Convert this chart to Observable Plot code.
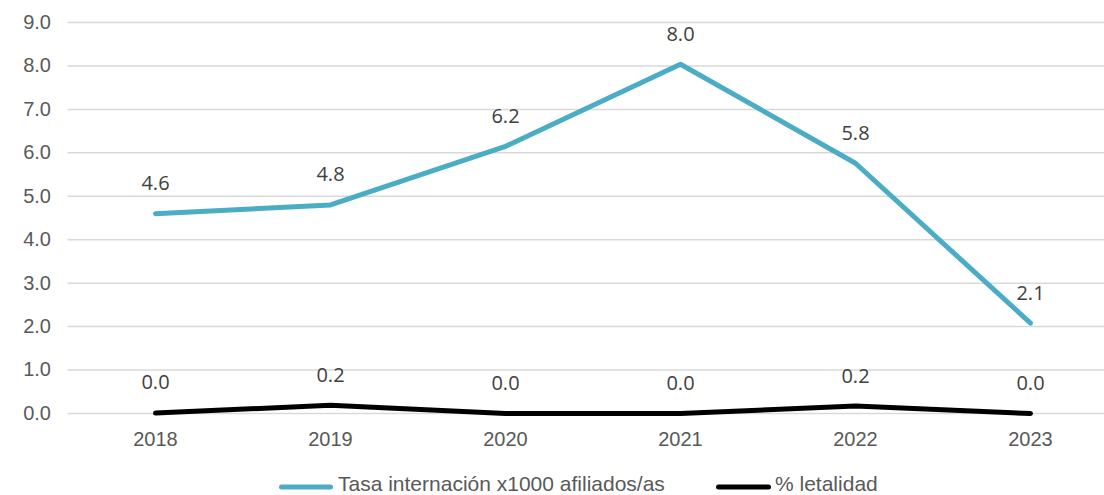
<!DOCTYPE html>
<html>
<head>
<meta charset="utf-8">
<script src="https://cdn.jsdelivr.net/npm/d3@7"></script>
<script src="https://cdn.jsdelivr.net/npm/@observablehq/plot@0.6"></script>
<style>
  html, body { margin: 0; padding: 0; background: #fff; }
  #wrap { width: 1104px; height: 495px; position: relative; overflow: hidden; }
  #legend { position: absolute; left: 0; top: 474px; width: 1104px; height: 21px; font-family: "Liberation Sans", Arial, sans-serif; font-size: 21px; color: #595959; }
  .sw { position: absolute; top: 10px; }
  .lbl { position: absolute; top: -1px; height: 21px; line-height: 21px; white-space: nowrap; }
</style>
</head>
<body>
<div id="wrap">
  <div id="chart"></div>
  <div id="legend"></div>
</div>
<script>
const years = ["2018", "2019", "2020", "2021", "2022", "2023"];
const tasa = [4.6, 4.8, 6.15, 8.04, 5.76, 2.08];
const letalidad = [0.01, 0.19, 0.0, 0.0, 0.17, 0.0];
const seriesNames = ["Tasa internación x1000 afiliados/as", "% letalidad"];
const seriesColors = ["#4BACC6", "#000000"];
const yTicks = [0, 1, 2, 3, 4, 5, 6, 7, 8, 9];

const data = [];
years.forEach((y, i) => {
  data.push({year: y, value: tasa[i], series: seriesNames[0]});
  data.push({year: y, value: letalidad[i], series: seriesNames[1]});
});

const fmt = d3.format(".1f");

const chart = Plot.plot({
  width: 1104,
  height: 474,
  marginLeft: 67.5,
  marginRight: -13.5,
  marginTop: 22,
  marginBottom: 61,
  style: {overflow: "hidden", background: "#fff"},
  x: {type: "point", domain: years, padding: 0.5, label: null},
  y: {domain: [0, 9], ticks: yTicks, label: null},
  color: {domain: seriesNames, range: seriesColors},
  marks: [
    Plot.gridY(yTicks, {stroke: "#d9d9d9", strokeOpacity: 1, strokeWidth: 1.5}),
    Plot.axisY({ticks: yTicks, tickSize: 0, tickPadding: 17, tickFormat: fmt, fontSize: 20, fontFamily: "Liberation Sans, Arial, sans-serif", fill: "#595959", label: null}),
    Plot.axisX({tickSize: 0, tickPadding: 18, fontSize: 20, fontFamily: "Liberation Sans, Arial, sans-serif", fill: "#595959", label: null}),
    Plot.line(data, {x: "year", y: "value", z: "series", stroke: "series", strokeWidth: 5, strokeLinecap: "round", strokeLinejoin: "round"}),
    Plot.text(data, {x: "year", y: "value", text: d => fmt(d.value), dy: -30, fontSize: 20, fontFamily: "Open Sans, sans-serif", fill: "#404040"})
  ]
});
document.getElementById("chart").appendChild(chart);

const legend = document.getElementById("legend");
const swatchLefts = [279, 716];
const swatchWidths = [54, 55];
const textLefts = [338, 775];
seriesNames.forEach((name, i) => {
  const sw = document.createElementNS("http://www.w3.org/2000/svg", "svg");
  sw.setAttribute("class", "sw");
  sw.setAttribute("width", swatchWidths[i]);
  sw.setAttribute("height", 6);
  sw.style.left = swatchLefts[i] + "px";
  sw.innerHTML = `<line x1="2.5" y1="3" x2="${swatchWidths[i] - 2.5}" y2="3" stroke="${seriesColors[i]}" stroke-width="5" stroke-linecap="round"/>`;
  legend.appendChild(sw);
  const lbl = document.createElement("span");
  lbl.className = "lbl";
  lbl.style.left = textLefts[i] + "px";
  lbl.textContent = name;
  legend.appendChild(lbl);
});
</script>
</body>
</html>
